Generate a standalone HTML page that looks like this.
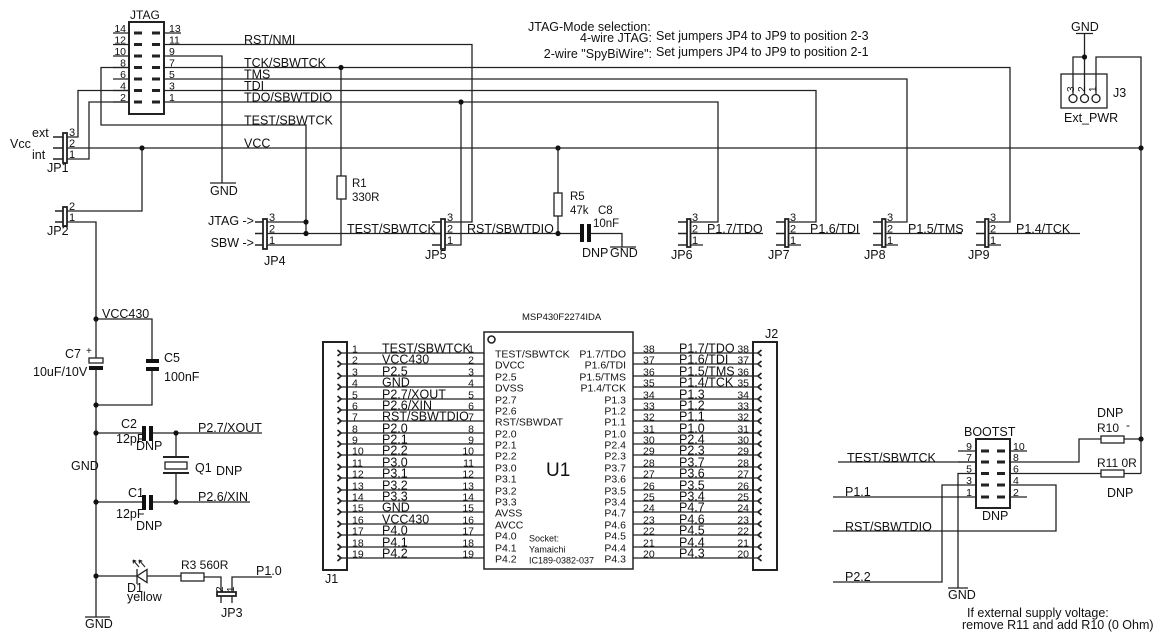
<!DOCTYPE html>
<html><head><meta charset="utf-8"><style>
html,body{margin:0;padding:0;background:#fff;}
svg{display:block;}
text{font-family:"Liberation Sans",Arial,sans-serif;fill:#111;}
</style></head><body>
<svg width="1160" height="640" viewBox="0 0 1160 640" xmlns="http://www.w3.org/2000/svg">
<rect width="1160" height="640" fill="#fff"/>
<g stroke="#222" stroke-width="1.3" fill="none">
<!-- JTAG header -->
<rect x="129" y="22" width="35" height="92" stroke-width="2"/>
<path d="M113 33H129M113 44.5H129M113 56H129M113 67.5H129M113 79H129M113 90.5H129M113 102H129"/>
<path d="M164 33H181"/>
<g stroke-width="3">
<path d="M134 33h8M152 33h8M134 44.5h8M152 44.5h8M134 56h8M152 56h8M134 67.5h8M152 67.5h8M134 79h8M152 79h8M134 90.5h8M152 90.5h8M134 102h8M152 102h8"/>
</g>
<!-- nets from JTAG -->
<path d="M164 44.5H472V222H445"/>
<path d="M164 56H222V183"/>
<path d="M210 183H236"/>
<path d="M164 67.5H1010V222H989"/>
<path d="M164 79H907V222H886"/>
<path d="M164 90.5H816V222H789"/>
<path d="M164 102H718V222H691"/>
<path d="M129 67.5H101V125H306V233.5"/>
<path d="M129 90.5H78V137H67"/>
<path d="M129 102H89V159H67"/>
<path d="M67 148H1141"/>
<!-- JP1 -->
<rect x="63" y="133" width="4" height="30" stroke-width="1.8"/>
<path d="M53 137H63M53 148H63M53 159H63" stroke-width="1.6"/>
<!-- R1 -->
<path d="M341 67.5V176M341 199V245H267"/>
<rect x="337" y="176" width="9" height="23"/>
<!-- JP4 -->
<rect x="263" y="219" width="4" height="30" stroke-width="1.8"/>
<path d="M255 222H263M255 233.5H263M255 245H263" stroke-width="1.6"/>
<path d="M267 222H306M267 233.5H441"/>
<!-- JP5 -->
<rect x="441" y="219" width="4" height="30" stroke-width="1.8"/>
<path d="M432 222H441M432 233.5H441M432 245H441" stroke-width="1.6"/>
<path d="M445 245H461V102"/>
<path d="M445 233.5H580"/>
<!-- R5 -->
<path d="M558 148V193M558 216V233.5"/>
<rect x="554" y="193" width="8" height="23"/>
<!-- C8 -->
<path d="M591 233.5H622V247M610 247H636"/>
<!-- JP6..JP9 -->
<rect x="687" y="219" width="3.5" height="28" stroke-width="1.8"/>
<path d="M678 222H687M678 233.5H687M678 245H687" stroke-width="1.6"/>
<path d="M690 233.5H763M690 245H703"/>
<rect x="785" y="219" width="3.5" height="28" stroke-width="1.8"/>
<path d="M776 222H785M776 233.5H785M776 245H785" stroke-width="1.6"/>
<path d="M788 233.5H860M788 245H801"/>
<rect x="882" y="219" width="3.5" height="28" stroke-width="1.8"/>
<path d="M873 222H882M873 233.5H882M873 245H882" stroke-width="1.6"/>
<path d="M885 233.5H962M885 245H898"/>
<rect x="985" y="219" width="3.5" height="28" stroke-width="1.8"/>
<path d="M976 222H985M976 233.5H985M976 245H985" stroke-width="1.6"/>
<path d="M988 233.5H1080M988 245H1001"/>
<!-- J3 -->
<rect x="1061" y="74" width="46" height="34"/>
<circle cx="1073" cy="98.5" r="4"/>
<circle cx="1084.5" cy="98.5" r="4"/>
<circle cx="1096" cy="98.5" r="4"/>
<path d="M1073 94.5V57H1084.5M1084.5 94.5V33.5M1076 33.5H1093M1096 94.5V57H1141V473.5"/>
<!-- JP2 / VCC430 -->
<rect x="63" y="207" width="4" height="19" stroke-width="1.8"/>
<path d="M55 211H63M55 222H63" stroke-width="1.6"/>
<path d="M67 211H142V148"/>
<path d="M67 222H96V358M96 370V617M85 617H110"/>
<path d="M96 319H152V359M152 371V405H96"/>
<rect x="89" y="358" width="14" height="5"/>
<!-- C2/C1/Q1 -->
<path d="M96 433H142M152 433H262M176 433V457M176 473V502M96 502H142M152 502H250"/>
<path d="M163 457H189M163 473H189" stroke-width="2"/>
<rect x="165" y="462" width="22" height="7"/>
<!-- LED row -->
<path d="M96 576H137M137 569V584M147 576H181M204 577H221V592M232 592V577H272M221 596V603M232 596V603"/>
<polygon points="137,576 147,569.5 147,582.5"/>
<rect x="181" y="573" width="23" height="8"/>
<rect x="217" y="592" width="19" height="4" stroke-width="1.8"/>
<path d="M139 567l-6-7M133 560l0.5 3.5M133 560l3.2 1.2M145 567l-6-7M139 560l0.5 3.5M139 560l3.2 1.2" stroke-width="1.1"/>
<!-- J1 / U1 / J2 -->
<rect x="323" y="342" width="24" height="228" stroke-width="2"/>
<rect x="484" y="332" width="149" height="237" stroke-width="1.5"/>
<circle cx="491.5" cy="339.5" r="3.5" stroke-width="1.6"/>
<rect x="753" y="342" width="24" height="228" stroke-width="2"/>
<path d="M341 353H484M341 364H484M341 376H484M341 387H484M341 399H484M341 410H484M341 421H484M341 433H484M341 444H484M341 455H484M341 467H484M341 478H484M341 490H484M341 501H484M341 512H484M341 524H484M341 535H484M341 547H484M341 558H484"/>
<path d="M633 353H758M633 364H758M633 376H758M633 387H758M633 399H758M633 410H758M633 421H758M633 433H758M633 444H758M633 455H758M633 467H758M633 478H758M633 490H758M633 501H758M633 512H758M633 524H758M633 535H758M633 547H758M633 558H758"/>
<g stroke-width="1.8">
<path d="M337.5 350l3.5 3l-3.5 3M337.5 361l3.5 3l-3.5 3M337.5 373l3.5 3l-3.5 3M337.5 384l3.5 3l-3.5 3M337.5 396l3.5 3l-3.5 3M337.5 407l3.5 3l-3.5 3M337.5 418l3.5 3l-3.5 3M337.5 430l3.5 3l-3.5 3M337.5 441l3.5 3l-3.5 3M337.5 452l3.5 3l-3.5 3M337.5 464l3.5 3l-3.5 3M337.5 475l3.5 3l-3.5 3M337.5 487l3.5 3l-3.5 3M337.5 498l3.5 3l-3.5 3M337.5 509l3.5 3l-3.5 3M337.5 521l3.5 3l-3.5 3M337.5 532l3.5 3l-3.5 3M337.5 544l3.5 3l-3.5 3M337.5 555l3.5 3l-3.5 3"/>
<path d="M761.5 350l-3.5 3l3.5 3M761.5 361l-3.5 3l3.5 3M761.5 373l-3.5 3l3.5 3M761.5 384l-3.5 3l3.5 3M761.5 396l-3.5 3l3.5 3M761.5 407l-3.5 3l3.5 3M761.5 418l-3.5 3l3.5 3M761.5 430l-3.5 3l3.5 3M761.5 441l-3.5 3l3.5 3M761.5 452l-3.5 3l3.5 3M761.5 464l-3.5 3l3.5 3M761.5 475l-3.5 3l3.5 3M761.5 487l-3.5 3l3.5 3M761.5 498l-3.5 3l3.5 3M761.5 509l-3.5 3l3.5 3M761.5 521l-3.5 3l3.5 3M761.5 532l-3.5 3l3.5 3M761.5 544l-3.5 3l3.5 3M761.5 555l-3.5 3l3.5 3"/>
</g>
<!-- BOOTST -->
<rect x="976" y="439" width="34" height="69" stroke-width="2"/>
<g stroke-width="3">
<path d="M981 451h8M997 451h8M981 462h8M997 462h8M981 473.5h8M997 473.5h8M981 485h8M997 485h8M981 497h8M997 497h8"/>
</g>
<path d="M958 451H976M1010 451H1027M958 462H976M1010 497H1027"/>
<path d="M838 462H976"/>
<path d="M1010 462H1079V439H1101M1124 439H1141"/>
<rect x="1101" y="436" width="23" height="7"/>
<path d="M1010 473.5H1101M1124 473.5H1141"/>
<rect x="1101" y="470" width="23" height="7"/>
<path d="M976 473.5H958V588M948 588H968"/>
<path d="M976 485H942V582H833"/>
<path d="M976 497H833"/>
<path d="M1010 485H1056V531H833"/>
</g>
<!-- filled parts -->
<g fill="#111">
<rect x="580" y="224" width="4" height="18"/>
<rect x="587" y="224" width="4" height="18"/>
<rect x="146" y="359" width="13" height="4"/>
<rect x="146" y="367" width="13" height="4"/>
<rect x="89" y="366" width="14" height="4"/>
<rect x="142" y="426" width="4" height="15"/>
<rect x="149" y="426" width="4" height="15"/>
<rect x="142" y="495" width="4" height="15"/>
<rect x="149" y="495" width="4" height="15"/>
<circle cx="341" cy="67.5" r="2.6"/>
<circle cx="461" cy="102" r="2.6"/>
<circle cx="142" cy="148" r="2.6"/>
<circle cx="558" cy="148" r="2.6"/>
<circle cx="1141" cy="148" r="2.6"/>
<circle cx="306" cy="222" r="2.6"/>
<circle cx="306" cy="233.5" r="2.6"/>
<circle cx="558" cy="233.5" r="2.6"/>
<circle cx="1084.5" cy="57" r="2.6"/>
<circle cx="96" cy="319" r="2.6"/>
<circle cx="96" cy="405" r="2.6"/>
<circle cx="96" cy="433" r="2.6"/>
<circle cx="176" cy="433" r="2.6"/>
<circle cx="96" cy="502" r="2.6"/>
<circle cx="176" cy="502" r="2.6"/>
<circle cx="96" cy="576" r="2.6"/>
<circle cx="1141" cy="439" r="2.6"/>
</g>

<!-- TEXT -->
<g font-size="12.5">
<text x="130" y="19" font-size="12">JTAG</text>
<text x="244" y="44">RST/NMI</text>
<text x="244" y="67">TCK/SBWTCK</text>
<text x="244" y="78.5">TMS</text>
<text x="244" y="90">TDI</text>
<text x="244" y="101.5">TDO/SBWTDIO</text>
<text x="244" y="124.5">TEST/SBWTCK</text>
<text x="244" y="147.5">VCC</text>
<text x="32" y="137">ext</text>
<text x="10" y="148">Vcc</text>
<text x="32" y="159">int</text>
<text x="47" y="172">JP1</text>
<text x="210" y="195">GND</text>
<text x="352" y="187" font-size="11.5">R1</text>
<text x="352" y="201" font-size="11.5">330R</text>
<text x="254" y="225" text-anchor="end">JTAG -&gt;</text>
<text x="254" y="247" text-anchor="end">SBW -&gt;</text>
<text x="264" y="265">JP4</text>
<text x="347" y="233">TEST/SBWTCK</text>
<text x="467" y="233">RST/SBWTDIO</text>
<text x="425" y="259">JP5</text>
<text x="570" y="200" font-size="11.5">R5</text>
<text x="570" y="214" font-size="11.5">47k</text>
<text x="598" y="214" font-size="11.5">C8</text>
<text x="593" y="227" font-size="11.5">10nF</text>
<text x="582" y="257">DNP</text>
<text x="610" y="257">GND</text>
<text x="707" y="233">P1.7/TDO</text>
<text x="810" y="233">P1.6/TDI</text>
<text x="908" y="233">P1.5/TMS</text>
<text x="1016" y="233">P1.4/TCK</text>
<text x="671" y="259">JP6</text>
<text x="768" y="259">JP7</text>
<text x="864" y="259">JP8</text>
<text x="968" y="259">JP9</text>
<text x="528" y="31">JTAG-Mode selection:</text>
<text x="652" y="42" text-anchor="end">4-wire JTAG:</text>
<text x="656" y="40">Set jumpers JP4 to JP9 to position 2-3</text>
<text x="652" y="58" text-anchor="end">2-wire &quot;SpyBiWire&quot;:</text>
<text x="656" y="56">Set jumpers JP4 to JP9 to position 2-1</text>
<text x="1071" y="31">GND</text>
<text x="1113" y="97">J3</text>
<text x="1064" y="122">Ext_PWR</text>
<text x="47" y="235">JP2</text>
<text x="102" y="318">VCC430</text>
<text x="65" y="358">C7</text>
<text x="33" y="376">10uF/10V</text>
<text x="164" y="362">C5</text>
<text x="164" y="381">100nF</text>
<text x="121" y="428">C2</text>
<text x="116" y="443">12pF</text>
<text x="136" y="450">DNP</text>
<text x="198" y="432">P2.7/XOUT</text>
<text x="71" y="470">GND</text>
<text x="195" y="472">Q1</text>
<text x="216" y="475">DNP</text>
<text x="128" y="497">C1</text>
<text x="116" y="518">12pF</text>
<text x="136" y="530">DNP</text>
<text x="198" y="501">P2.6/XIN</text>
<text x="181" y="569" font-size="12">R3 560R</text>
<text x="256" y="575">P1.0</text>
<text x="127" y="592">D1</text>
<text x="127" y="601">yellow</text>
<text x="221" y="617">JP3</text>
<text x="85" y="628">GND</text>
<text x="325" y="583">J1</text>
<text x="765" y="338">J2</text>
<text x="964" y="436">BOOTST</text>
<text x="982" y="520">DNP</text>
<text x="847" y="462">TEST/SBWTCK</text>
<text x="845" y="496">P1.1</text>
<text x="845" y="531">RST/SBWTDIO</text>
<text x="845" y="581">P2.2</text>
<text x="948" y="599">GND</text>
<text x="1097" y="417">DNP</text>
<text x="1097" y="432" font-size="12">R10</text>
<text x="1126" y="429" font-size="12">-</text>
<text x="1097" y="467" font-size="12">R11 0R</text>
<text x="1107" y="497">DNP</text>
<text x="967" y="617">If external supply voltage:</text>
<text x="962" y="629">remove R11 and add R10 (0 Ohm)</text>
<text x="546" y="476" font-size="19">U1</text>
</g>
<g font-size="10">
<text transform="rotate(-90 220 588)" x="216" y="591">2</text>
<text transform="rotate(-90 231 588)" x="227" y="591">1</text>
<text transform="rotate(-90 1071 88)" x="1067" y="91">3</text>
<text transform="rotate(-90 1082 88)" x="1078" y="91">2</text>
<text transform="rotate(-90 1093 88)" x="1089" y="91">1</text>
</g>
<!-- JTAG pin numbers -->
<g font-size="10.5">
<g text-anchor="end">
<text x="126" y="32">14</text><text x="126" y="43.5">12</text><text x="126" y="55">10</text><text x="126" y="66.5">8</text><text x="126" y="78">6</text><text x="126" y="89.5">4</text><text x="126" y="101">2</text>
</g>
<text x="169" y="32">13</text><text x="169" y="43.5">11</text><text x="169" y="55">9</text><text x="169" y="66.5">7</text><text x="169" y="78">5</text><text x="169" y="89.5">3</text><text x="169" y="101">1</text>
<g text-anchor="end">
<text x="972" y="450">9</text><text x="972" y="461">7</text><text x="972" y="472.5">5</text><text x="972" y="484">3</text><text x="972" y="496">1</text>
</g>
<text x="1013" y="450">10</text><text x="1013" y="461">8</text><text x="1013" y="472.5">6</text><text x="1013" y="484">4</text><text x="1013" y="496">2</text>
</g>
<!-- jumper pin numbers -->
<g font-size="11">
<text x="69" y="136">3</text><text x="69" y="147">2</text><text x="69" y="158">1</text>
<text x="69" y="210">2</text><text x="69" y="221">1</text>
<text x="269" y="221">3</text><text x="269" y="232.5">2</text><text x="269" y="244">1</text>
<text x="447" y="221">3</text><text x="447" y="232.5">2</text><text x="447" y="244">1</text>
<text x="692" y="221">3</text><text x="692" y="232.5">2</text><text x="692" y="244">1</text>
<text x="790" y="221">3</text><text x="790" y="232.5">2</text><text x="790" y="244">1</text>
<text x="887" y="221">3</text><text x="887" y="232.5">2</text><text x="887" y="244">1</text>
<text x="990" y="221">3</text><text x="990" y="232.5">2</text><text x="990" y="244">1</text>
<text x="86" y="354" font-size="10">+</text>
</g>
<!-- U1 title and socket -->
<text x="522" y="320" font-size="9.5">MSP430F2274IDA</text>
<g font-size="9">
<text x="529" y="541.5">Socket:</text>
<text x="529" y="552.5">Yamaichi</text>
<text x="529" y="563.5">IC189-0382-037</text>
</g>
<!-- J1 pin numbers -->
<g font-size="10.5">
<text x="352" y="352.5">1</text><text x="352" y="363.5">2</text><text x="352" y="375.5">3</text><text x="352" y="386.5">4</text><text x="352" y="398.5">5</text><text x="352" y="409.5">6</text><text x="352" y="420.5">7</text><text x="352" y="432.5">8</text><text x="352" y="443.5">9</text><text x="352" y="454.5">10</text><text x="352" y="466.5">11</text><text x="352" y="477.5">12</text><text x="352" y="489.5">13</text><text x="352" y="500.5">14</text><text x="352" y="511.5">15</text><text x="352" y="523.5">16</text><text x="352" y="534.5">17</text><text x="352" y="546.5">18</text><text x="352" y="557.5">19</text>
<g text-anchor="end">
<text x="474" y="352.5">1</text><text x="474" y="363.5">2</text><text x="474" y="375.5">3</text><text x="474" y="386.5">4</text><text x="474" y="398.5">5</text><text x="474" y="409.5">6</text><text x="474" y="420.5">7</text><text x="474" y="432.5">8</text><text x="474" y="443.5">9</text><text x="474" y="454.5">10</text><text x="474" y="466.5">11</text><text x="474" y="477.5">12</text><text x="474" y="489.5">13</text><text x="474" y="500.5">14</text><text x="474" y="511.5">15</text><text x="474" y="523.5">16</text><text x="474" y="534.5">17</text><text x="474" y="546.5">18</text><text x="474" y="557.5">19</text>
</g>
<text x="643" y="352.5">38</text><text x="643" y="363.5">37</text><text x="643" y="375.5">36</text><text x="643" y="386.5">35</text><text x="643" y="398.5">34</text><text x="643" y="409.5">33</text><text x="643" y="420.5">32</text><text x="643" y="432.5">31</text><text x="643" y="443.5">30</text><text x="643" y="454.5">29</text><text x="643" y="466.5">28</text><text x="643" y="477.5">27</text><text x="643" y="489.5">26</text><text x="643" y="500.5">25</text><text x="643" y="511.5">24</text><text x="643" y="523.5">23</text><text x="643" y="534.5">22</text><text x="643" y="546.5">21</text><text x="643" y="557.5">20</text>
<g text-anchor="end">
<text x="749" y="352.5">38</text><text x="749" y="363.5">37</text><text x="749" y="375.5">36</text><text x="749" y="386.5">35</text><text x="749" y="398.5">34</text><text x="749" y="409.5">33</text><text x="749" y="420.5">32</text><text x="749" y="432.5">31</text><text x="749" y="443.5">30</text><text x="749" y="454.5">29</text><text x="749" y="466.5">28</text><text x="749" y="477.5">27</text><text x="749" y="489.5">26</text><text x="749" y="500.5">25</text><text x="749" y="511.5">24</text><text x="749" y="523.5">23</text><text x="749" y="534.5">22</text><text x="749" y="546.5">21</text><text x="749" y="557.5">20</text>
</g>
</g>
<!-- J1 names -->
<g font-size="12.5">
<text x="382" y="352.5">TEST/SBWTCK</text><text x="382" y="363.5">VCC430</text><text x="382" y="375.5">P2.5</text><text x="382" y="386.5">GND</text><text x="382" y="398.5">P2.7/XOUT</text><text x="382" y="409.5">P2.6/XIN</text><text x="382" y="420.5">RST/SBWTDIO</text><text x="382" y="432.5">P2.0</text><text x="382" y="443.5">P2.1</text><text x="382" y="454.5">P2.2</text><text x="382" y="466.5">P3.0</text><text x="382" y="477.5">P3.1</text><text x="382" y="489.5">P3.2</text><text x="382" y="500.5">P3.3</text><text x="382" y="511.5">GND</text><text x="382" y="523.5">VCC430</text><text x="382" y="534.5">P4.0</text><text x="382" y="546.5">P4.1</text><text x="382" y="557.5">P4.2</text>
<text x="679" y="352.5">P1.7/TDO</text><text x="679" y="363.5">P1.6/TDI</text><text x="679" y="375.5">P1.5/TMS</text><text x="679" y="386.5">P1.4/TCK</text><text x="679" y="398.5">P1.3</text><text x="679" y="409.5">P1.2</text><text x="679" y="420.5">P1.1</text><text x="679" y="432.5">P1.0</text><text x="679" y="443.5">P2.4</text><text x="679" y="454.5">P2.3</text><text x="679" y="466.5">P3.7</text><text x="679" y="477.5">P3.6</text><text x="679" y="489.5">P3.5</text><text x="679" y="500.5">P3.4</text><text x="679" y="511.5">P4.7</text><text x="679" y="523.5">P4.6</text><text x="679" y="534.5">P4.5</text><text x="679" y="546.5">P4.4</text><text x="679" y="557.5">P4.3</text>
</g>
<!-- U1 internal names -->
<g font-size="10.5">
<text x="495" y="357.5">TEST/SBWTCK</text><text x="495" y="368.5">DVCC</text><text x="495" y="380.5">P2.5</text><text x="495" y="391.5">DVSS</text><text x="495" y="403.5">P2.7</text><text x="495" y="414.5">P2.6</text><text x="495" y="425.5">RST/SBWDAT</text><text x="495" y="437.5">P2.0</text><text x="495" y="448.5">P2.1</text><text x="495" y="459.5">P2.2</text><text x="495" y="471.5">P3.0</text><text x="495" y="482.5">P3.1</text><text x="495" y="494.5">P3.2</text><text x="495" y="505.5">P3.3</text><text x="495" y="516.5">AVSS</text><text x="495" y="528.5">AVCC</text><text x="495" y="539.5">P4.0</text><text x="495" y="551.5">P4.1</text><text x="495" y="562.5">P4.2</text>
<g text-anchor="end">
<text x="626" y="357.5">P1.7/TDO</text><text x="626" y="368.5">P1.6/TDI</text><text x="626" y="380.5">P1.5/TMS</text><text x="626" y="391.5">P1.4/TCK</text><text x="626" y="403.5">P1.3</text><text x="626" y="414.5">P1.2</text><text x="626" y="425.5">P1.1</text><text x="626" y="437.5">P1.0</text><text x="626" y="448.5">P2.4</text><text x="626" y="459.5">P2.3</text><text x="626" y="471.5">P3.7</text><text x="626" y="482.5">P3.6</text><text x="626" y="494.5">P3.5</text><text x="626" y="505.5">P3.4</text><text x="626" y="516.5">P4.7</text><text x="626" y="528.5">P4.6</text><text x="626" y="539.5">P4.5</text><text x="626" y="551.5">P4.4</text><text x="626" y="562.5">P4.3</text>
</g>
</g>
</svg>
</body></html>
